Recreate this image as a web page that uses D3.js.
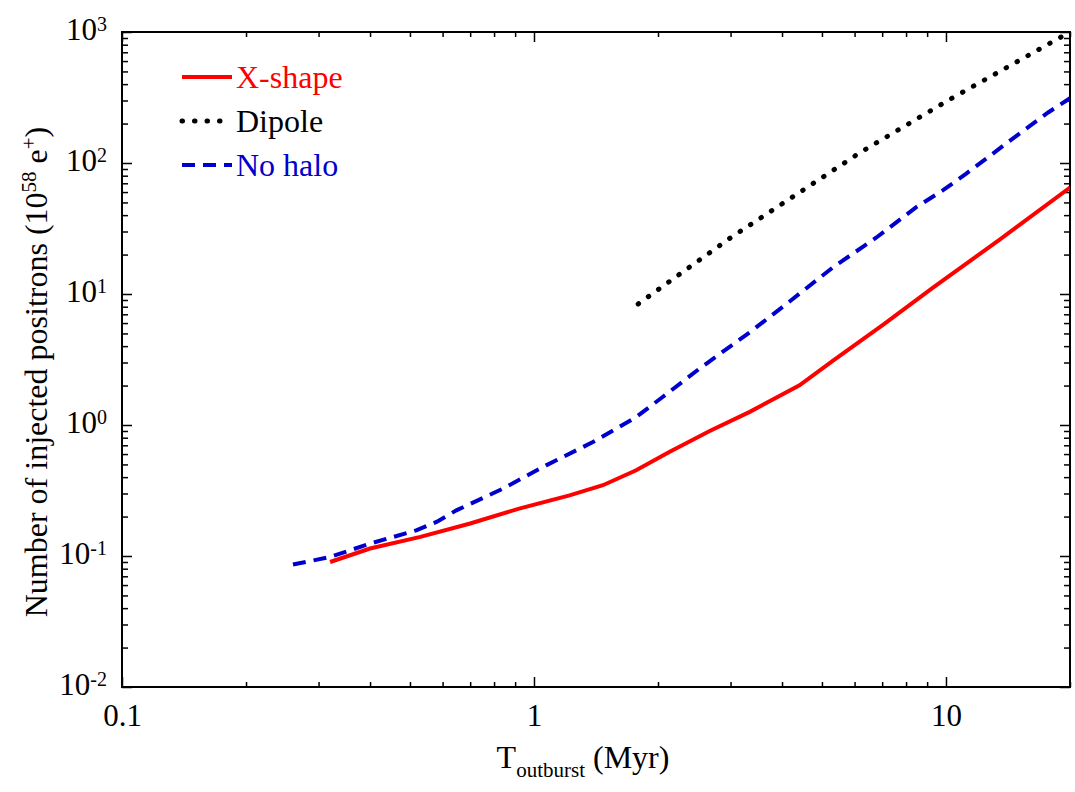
<!DOCTYPE html>
<html>
<head>
<meta charset="utf-8">
<script src="https://cdn.jsdelivr.net/npm/d3@7"></script>
<style>
  body { margin: 0; background: #fff; }
  svg { font-family: "Liberation Serif", "DejaVu Serif", serif; }
</style>
</head>
<body>
<script>
// values (T in Myr, N in 10^58 e+)
var tXshape = [0.32, 0.40, 0.53, 0.70, 0.92, 1.22, 1.47, 1.77, 2.13, 2.67, 3.34, 4.41, 5.32, 7.03, 9.3, 13.5, 20];
var nXshape = [0.090, 0.114, 0.140, 0.177, 0.230, 0.290, 0.347, 0.451, 0.622, 0.90, 1.26, 2.01, 3.1, 5.8, 11.2, 26, 65];

var tDipole = [1.79, 3.0, 6.21, 10.2, 20];
var nDipole = [8.4, 26.9, 121, 305, 1000];

var tNohalo = [0.26, 0.319, 0.399, 0.518, 0.58, 0.648, 0.841, 1.07, 1.39, 1.77, 2.06, 2.52, 3.34, 4.02, 5.32, 6.78, 8.47, 9.84, 11.2, 13.0, 14.0, 17.7, 20];
var nNohalo = [0.086, 0.098, 0.124, 0.157, 0.182, 0.223, 0.327, 0.492, 0.741, 1.15, 1.65, 2.69, 5.1, 8.0, 16.0, 27, 46, 62, 83, 118, 141, 243, 312];

var seriesNames = ["X-shape", "Dipole", "No halo"];
var xMajor = [0.1, 1, 10];
var xMajorLabels = ["0.1", "1", "10"];
var yMajor = [0.01, 0.1, 1, 10, 100, 1000];
var yExponents = ["-2", "-1", "0", "1", "2", "3"];

var width = 1075, height = 792;
var margin = {left: 122, right: 5, top: 32, bottom: 105};

var x = d3.scaleLog().domain([0.1, 20]).range([margin.left, width - margin.right]);
var y = d3.scaleLog().domain([0.01, 1000]).range([height - margin.bottom, margin.top]);

// minor ticks 2..9 per decade
var xMinor = [];
[0.1, 1, 10].forEach(function(d) {
  for (var k = 2; k <= 9; k++) if (k * d <= 20) xMinor.push(k * d);
});
var yMinor = [];
[0.01, 0.1, 1, 10, 100].forEach(function(d) {
  for (var k = 2; k <= 9; k++) yMinor.push(k * d);
});

var svg = d3.select("body").append("svg")
  .attr("width", width)
  .attr("height", height);

var x0 = x.range()[0], x1 = x.range()[1];
var y0 = y.range()[0], y1 = y.range()[1];

function tickAxis(axis, tx, ty) {
  var g = svg.append("g").attr("transform", "translate(" + tx + "," + ty + ")").call(axis);
  g.select(".domain").remove();
  g.selectAll(".tick line").attr("stroke", "#000").attr("stroke-width", 1.5);
  return g;
}

// bottom / top
tickAxis(d3.axisBottom(x).tickValues(xMinor).tickSize(-5).tickFormat(""), 0, y0);
tickAxis(d3.axisTop(x).tickValues(xMinor).tickSize(-5).tickFormat(""), 0, y1);
tickAxis(d3.axisTop(x).tickValues(xMajor).tickSize(-10).tickFormat(""), 0, y1);
var xg = tickAxis(d3.axisBottom(x).tickValues(xMajor).tickSize(-10).tickPadding(17)
  .tickFormat(function(d, i) { return xMajorLabels[i]; }), 0, y0);
xg.selectAll(".tick text").attr("font-size", 31).attr("fill", "#000")
  .attr("font-family", "Liberation Serif");

// left / right
tickAxis(d3.axisLeft(y).tickValues(yMinor).tickSize(-6).tickFormat(""), x0, 0);
tickAxis(d3.axisRight(y).tickValues(yMinor).tickSize(-6).tickFormat(""), x1, 0);
tickAxis(d3.axisRight(y).tickValues(yMajor).tickSize(-10).tickFormat(""), x1, 0);
var yg = tickAxis(d3.axisLeft(y).tickValues(yMajor).tickSize(-10).tickPadding(15).tickFormat(""), x0, 0);
yg.selectAll(".tick text").each(function(d, i) {
  var t = d3.select(this)
    .attr("font-size", 31).attr("fill", "#000").attr("dy", 7)
    .attr("font-family", "Liberation Serif");
  t.append("tspan").text("10");
  t.append("tspan").attr("dy", -9).attr("font-size", 20).text(yExponents[i]);
});

// frame
svg.append("rect")
  .attr("x", x0).attr("y", y1)
  .attr("width", x1 - x0).attr("height", y0 - y1)
  .attr("fill", "none").attr("stroke", "#000").attr("stroke-width", 2);

// curves
var line = d3.line()
  .x(function(d) { return x(d[0]); })
  .y(function(d) { return y(d[1]); });

var plot = svg.append("g");
plot.append("clipPath").attr("id", "clip").append("rect")
  .attr("x", x0).attr("y", y1).attr("width", x1 - x0).attr("height", y0 - y1);
plot.attr("clip-path", "url(#clip)");

var styles = [
  {color: "#ff0000", dash: null, cap: "butt", w: 4},
  {color: "#000000", dash: "0.5,12", cap: "round", w: 5},
  {color: "#0000cc", dash: "13,8", cap: "butt", w: 4}
];
var series = [
  d3.zip(tXshape, nXshape),
  d3.zip(tDipole, nDipole),
  d3.zip(tNohalo, nNohalo)
];

[2, 1, 0].forEach(function(i) {
  plot.append("path")
    .attr("d", line(series[i]))
    .attr("fill", "none")
    .attr("stroke", styles[i].color)
    .attr("stroke-width", styles[i].w)
    .attr("stroke-linecap", styles[i].cap)
    .attr("stroke-dasharray", styles[i].dash);
});

// legend
var legend = svg.append("g").attr("transform", "translate(182,77)");
seriesNames.forEach(function(name, i) {
  var row = legend.append("g").attr("transform", "translate(0," + (i * 44) + ")");
  row.append("line")
    .attr("x1", 0).attr("x2", 50).attr("y1", 0).attr("y2", 0)
    .attr("stroke", styles[i].color)
    .attr("stroke-width", styles[i].w)
    .attr("stroke-linecap", styles[i].cap)
    .attr("stroke-dasharray", styles[i].dash);
  row.append("text")
    .attr("x", 54).attr("y", 11)
    .attr("font-size", 32)
    .attr("fill", styles[i].color)
    .text(name);
});

// axis titles
var xt = svg.append("text")
  .attr("x", 583).attr("y", 768)
  .attr("text-anchor", "middle")
  .attr("font-size", 32);
xt.append("tspan").text("T");
xt.append("tspan").attr("font-size", 21).attr("dy", 9).text("outburst");
xt.append("tspan").attr("dy", -9).text(" (Myr)");

var yt = svg.append("text")
  .attr("transform", "translate(47,372) rotate(-90)")
  .attr("text-anchor", "middle")
  .attr("font-size", 32);
yt.append("tspan").text("Number of injected positrons (10");
yt.append("tspan").attr("font-size", 21).attr("dy", -11).text("58");
yt.append("tspan").attr("dy", 11).text(" e");
yt.append("tspan").attr("font-size", 21).attr("dy", -11).text("+");
yt.append("tspan").attr("dy", 11).text(")");
</script>
</body>
</html>
